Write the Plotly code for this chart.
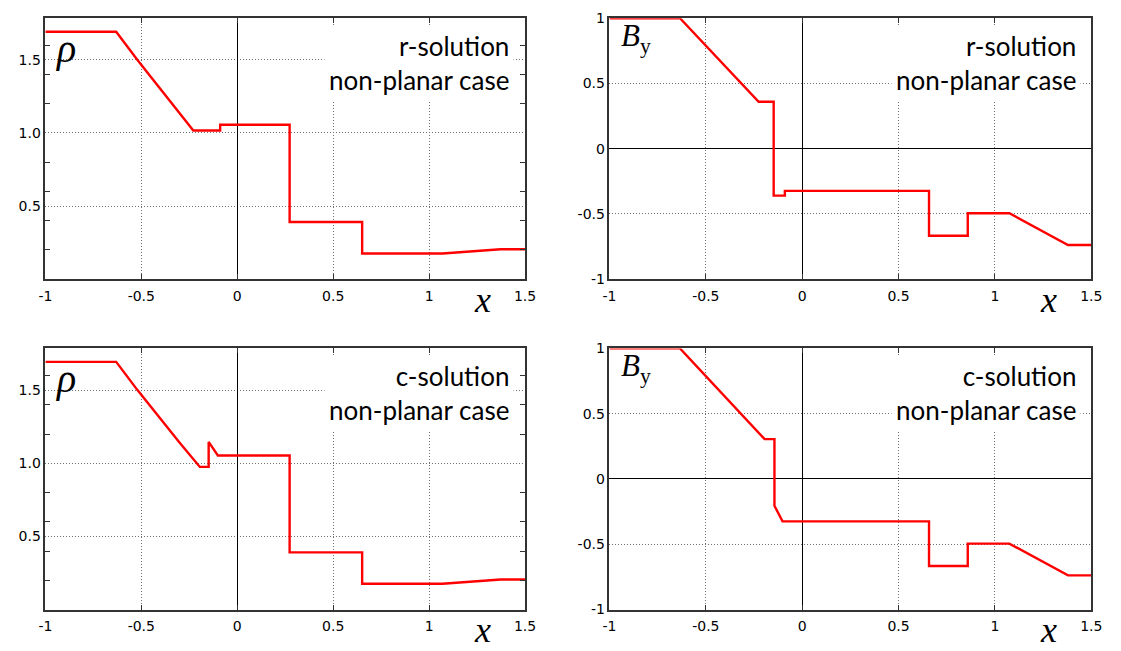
import plotly.graph_objects as go

# Density profiles
rho_r_x = [-1.0, -0.631, -0.52, -0.40, -0.30, -0.229, -0.089, -0.089, 0.273, 0.273, 0.651, 0.651, 1.07, 1.373, 1.5]
rho_r_y = [1.693, 1.693, 1.50, 1.30, 1.14, 1.017, 1.017, 1.056, 1.056, 0.391, 0.391, 0.176, 0.176, 0.205, 0.205]

rho_c_x = [-1.0, -0.631, -0.52, -0.40, -0.30, -0.195, -0.149, -0.149, -0.101, 0.273, 0.273, 0.651, 0.651, 1.07, 1.373, 1.5]
rho_c_y = [1.693, 1.693, 1.50, 1.30, 1.14, 0.975, 0.975, 1.146, 1.053, 1.053, 0.391, 0.391, 0.176, 0.176, 0.205, 0.205]

# Transverse magnetic field profiles
by_r_x = [-1.0, -0.634, -0.226, -0.148, -0.148, -0.09, -0.09, 0.658, 0.658, 0.859, 0.859, 1.075, 1.379, 1.5]
by_r_y = [1.0, 1.0, 0.36, 0.36, -0.36, -0.36, -0.323, -0.323, -0.667, -0.667, -0.495, -0.495, -0.738, -0.738]

by_c_x = [-1.0, -0.634, -0.195, -0.144, -0.144, -0.102, 0.658, 0.658, 0.859, 0.859, 1.075, 1.379, 1.5]
by_c_y = [1.0, 1.0, 0.305, 0.305, -0.205, -0.325, -0.325, -0.667, -0.667, -0.495, -0.495, -0.738, -0.738]

x_ticks = [-1, -0.5, 0, 0.5, 1, 1.5]
x_ticktext = ["-1", "-0.5", "0", "0.5", "1", "1.5"]
rho_ticks = [0.5, 1.0, 1.5]
rho_ticktext = ["0.5", "1.0", "1.5"]
rho_minor = [0.2, 0.4, 0.6, 0.8, 1.2, 1.4, 1.6]
by_ticks = [-1, -0.5, 0, 0.5, 1]
by_ticktext = ["-1", "-0.5", "0", "0.5", "1"]

panels = [
    # (xaxis id, yaxis id, x, y, quantity, solution)
    ("x", "y", rho_r_x, rho_r_y, "rho", "r-solution"),
    ("x2", "y2", by_r_x, by_r_y, "by", "r-solution"),
    ("x3", "y3", rho_c_x, rho_c_y, "rho", "c-solution"),
    ("x4", "y4", by_c_x, by_c_y, "by", "c-solution"),
]

W, H = 1121, 651
left_dom = [39 / W, 526.5 / W]
right_dom = [612.3 / W, 1102 / W]
top_dom = [1 - 278 / H, 1 - 10.5 / H]
bot_dom = [1 - 616.7 / H, 1 - 349 / H]
domains = [(left_dom, top_dom), (right_dom, top_dom), (left_dom, bot_dom), (right_dom, bot_dom)]

fig = go.Figure()
tick_font = dict(family="DejaVu Sans, sans-serif", size=14, color="#000")
grid_color = "#707070"
grid_dash = "1px,2px"
frame_color = "#333333"
serif = "Liberation Serif, Times New Roman, serif"

layout = dict(
    width=W, height=H,
    margin=dict(l=0, r=0, t=0, b=0),
    paper_bgcolor="white", plot_bgcolor="white",
    showlegend=False,
)
annotations = []

for (xa, ya, xs, ys, qty, sol), (xd, yd) in zip(panels, domains):
    fig.add_trace(go.Scatter(x=xs, y=ys, mode="lines", xaxis=xa, yaxis=ya,
                             line=dict(color="#ff0000", width=2.4)))
    xkey = "xaxis" if xa == "x" else "xaxis" + xa[1:]
    ykey = "yaxis" if ya == "y" else "yaxis" + ya[1:]
    layout[xkey] = dict(
        domain=xd, anchor=ya, range=[-1, 1.5],
        tickvals=x_ticks, ticktext=x_ticktext, tickfont=tick_font,
        ticks="inside", ticklen=5, tickcolor=frame_color, ticklabelstandoff=3,
        showline=True, linecolor=frame_color, linewidth=1.5, mirror="ticks",
        showgrid=True, gridcolor=grid_color, griddash=grid_dash, gridwidth=1,
        zeroline=True, zerolinecolor="#000", zerolinewidth=1,
    )
    if qty == "rho":
        layout[ykey] = dict(
            domain=yd, anchor=xa, range=[0, 1.785],
            tickvals=rho_ticks, ticktext=rho_ticktext, tickfont=tick_font,
            ticks="",
            minor=dict(tickvals=rho_minor, ticks="inside", ticklen=5,
                       tickcolor=frame_color, showgrid=False),
            showline=True, linecolor=frame_color, linewidth=1.5, mirror="ticks",
            showgrid=True, gridcolor=grid_color, griddash=grid_dash, gridwidth=1,
            zeroline=False,
        )
        label = "<i>ρ</i>"
        lab_x, lab_y, lab_size = 0.043, 0.885, 40
    else:
        layout[ykey] = dict(
            domain=yd, anchor=xa, range=[-1, 1],
            tickvals=by_ticks, ticktext=by_ticktext, tickfont=tick_font,
            ticks="",
            showline=True, linecolor=frame_color, linewidth=1.5, mirror=True,
            showgrid=True, gridcolor=grid_color, griddash=grid_dash, gridwidth=1,
            zeroline=True, zerolinecolor="#000", zerolinewidth=1,
        )
        label = "<i>B</i><sub>y</sub>"
        lab_x, lab_y, lab_size = 0.055, 0.925, 31

    xdom = xa + " domain"
    ydom = ya + " domain"
    # quantity symbol in the upper-left corner
    annotations.append(dict(
        text=label, xref=xdom, yref=ydom, x=lab_x, y=lab_y,
        xanchor="center", yanchor="middle", showarrow=False,
        font=dict(family=serif, size=lab_size, color="#000"),
    ))
    # case description in the upper-right corner
    annotations.append(dict(
        text=sol + "<br>non-planar case", xref=xdom, yref=ydom,
        x=0.978, y=0.83, xanchor="right", yanchor="middle", align="right",
        showarrow=False, bgcolor="white", borderpad=4,
        font=dict(family="Lato, sans-serif", size=26, color="#000"),
    ))
    # x-axis symbol
    annotations.append(dict(
        text="<i>x</i>", xref=xdom, yref=ydom, x=0.912, y=-0.08,
        xanchor="center", yanchor="middle", showarrow=False,
        font=dict(family=serif, size=36, color="#000"),
    ))

layout["annotations"] = annotations
fig.update_layout(**layout)
fig.write_html("out.html")
